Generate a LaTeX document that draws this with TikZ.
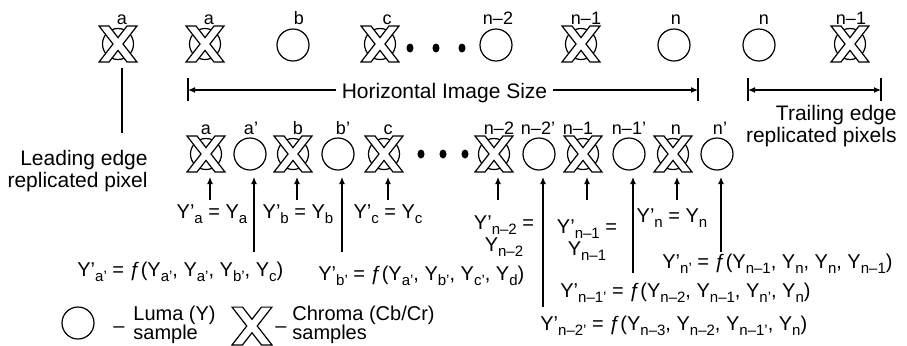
\documentclass[tikz,border=0pt]{standalone}
\usepackage{fontspec}
\setmainfont{Liberation Sans}
\usetikzlibrary{arrows.meta,calc}
\newcommand\sbx[1]{\raisebox{-2.5pt}{\fontsize{7.5}{8}\selectfont #1}}
\begin{document}
\begin{tikzpicture}[x=0.5pt,y=-0.5pt,
  lw/.style={line width=0.6pt},
  luma/.style={circle,draw,lw,minimum size=16pt,inner sep=0pt},
  chroma/.style={circle,draw,lw,minimum size=15.5pt,inner sep=0pt},
  lbl/.style={font=\fontsize{9}{10}\selectfont,anchor=base,inner sep=0pt},
  txt/.style={font=\fontsize{10.5}{12}\selectfont,inner sep=0pt},
  lgtxt/.style={font=\fontsize{10}{11}\selectfont,inner sep=0pt},
  ftxt/.style={font=\fontsize{10}{12}\selectfont,inner sep=0pt},
  arr/.style={lw,-{Latex[length=3.5pt,width=3pt]}},
  xmark/.pic={\draw[lw,fill=white,line join=miter] (-19,18)--(-9,18)--(0,6.4)--(9,18)--(19,18)--(5,0)--(19,-18)--(9,-18)--(0,-6.4)--(-9,-18)--(-19,-18)--(-5,0)--cycle;}
]
\useasboundingbox (0,0) rectangle (907,345);

% ---------- top row ----------
\node[chroma] (lead) at (118,44) {};
\node[chroma] (t1) at (205,44) {};
\node[luma]   (t2) at (293,45) {};
\node[chroma] (t3) at (380,44) {};
\node[luma]   (t4) at (496,45) {};
\node[chroma] (t5) at (581,44) {};
\node[luma]   (t6) at (674,45) {};
\node[luma]   (t7) at (759,45) {};
\node[chroma] (t8) at (850,44) {};
\foreach \n in {lead,t1,t3,t5,t8} \pic at (\n) {xmark};

\node[lbl] (lt0) at (122,24) {a};
\node[lbl] (lt1) at (209,24) {a};
\node[lbl] (lt2) at (299,24) {b};
\node[lbl] (lt3) at (387,24) {c};
\node[lbl] (lt4) at (498,24) {n–2};
\node[lbl] (lt5) at (586,24) {n–1};
\node[lbl] (lt6) at (676,24) {n};
\node[lbl] (lt7) at (764,24) {n};
\node[lbl] (lt8) at (851,24) {n–1};

\foreach \x in {410,436,462} \fill (\x,48) ellipse [x radius=1.75pt, y radius=2.25pt];

% ---------- horizontal image size ----------
\coordinate (hL) at (188,90);
\coordinate (hR) at (698,90);
\draw[lw] ($(hL)+(0,-12)$) -- ($(hL)+(0,11)$);
\draw[lw] ($(hR)+(0,-12)$) -- ($(hR)+(0,11)$);
\node[txt,anchor=base,inner xsep=2.5pt] (his) at (444.5,98) {Horizontal Image Size};
\draw[arr] (his.west |- hL) -- (hL);
\draw[arr] (his.east |- hR) -- (hR);

\coordinate (tL) at (748,90);
\coordinate (tR) at (881,90);
\draw[lw] ($(tL)+(0,-12)$) -- ($(tL)+(0,11)$);
\draw[lw] ($(tR)+(0,-12)$) -- ($(tR)+(0,11)$);
\draw[lw,{Latex[length=3.5pt,width=3pt]}-{Latex[length=3.5pt,width=3pt]}] (tL) -- (tR);

\node[txt,anchor=base east] (tr1) at (897,120) {Trailing edge};
\node[txt,anchor=base east] (tr2) at (897,142) {replicated pixels};

\node[txt,anchor=base east] (le1) at (148,165) {Leading edge};
\node[txt,anchor=base east] (le2) at (148,187) {replicated pixel};
\coordinate (leadend) at (122,133);
\draw[lw] ($(lead)+(4,24)$) -- (leadend);

% ---------- bottom row ----------
\node[chroma] (b1)  at (206,154) {};
\node[luma]   (b2)  at (250,154) {};
\node[chroma] (b3)  at (293,154) {};
\node[luma]   (b4)  at (338,154) {};
\node[chroma] (b5)  at (384,154) {};
\node[chroma] (b6)  at (494,154) {};
\node[luma]   (b7)  at (539,154) {};
\node[chroma] (b8)  at (583,154) {};
\node[luma]   (b9)  at (629,154) {};
\node[chroma] (b10) at (673,154) {};
\node[luma]   (b11) at (717,154) {};
\foreach \n in {b1,b3,b5,b6,b8,b10} \pic at (\n) {xmark};

\node[lbl] (lb1)  at (206,134) {a};
\node[lbl] (lb2)  at (251,134) {a’};
\node[lbl] (lb3)  at (298,134) {b};
\node[lbl] (lb4)  at (343,134) {b’};
\node[lbl] (lb5)  at (388,134) {c};
\node[lbl] (lb6)  at (499,134) {n–2};
\node[lbl] (lb7)  at (538,134) {n–2’};
\node[lbl] (lb8)  at (578,134) {n–1};
\node[lbl] (lb9)  at (629,134) {n–1’};
\node[lbl] (lb10) at (676,134) {n};
\node[lbl] (lb11) at (720,134) {n’};

\foreach \x in {421,443,465} \fill (\x,154) ellipse [x radius=1.75pt, y radius=2.25pt];

% arrows
\foreach \n in {b1,b3,b5,b6,b8,b10} {
  \coordinate (tail-\n) at ($(\n)+(4,46)$);
  \draw[arr] (tail-\n) -- ($(\n)+(4,23)$);
}
\foreach \n/\d in {b2/98,b4/98,b7/153,b9/119,b11/98} {
  \coordinate (tail-\n) at ($(\n)+(4,\d)$);
  \draw[arr] (tail-\n) -- ($(\n)+(4,23)$);
}

% equations
\node[ftxt,anchor=base] (ya) at (212,218) {Y’\sbx{a} = Y\sbx{a}};
\node[ftxt,anchor=base] (yb) at (298,218) {Y’\sbx{b} = Y\sbx{b}};
\node[ftxt,anchor=base] (yc) at (388,218) {Y’\sbx{c} = Y\sbx{c}};
\node[ftxt,anchor=base] (yn2a) at (504,229) {Y’\sbx{n–2} =};
\node[ftxt,anchor=base] (yn2b) at (504,251) {Y\sbx{n–2}};
\node[ftxt,anchor=base] (yn1a) at (587,233) {Y’\sbx{n–1} =};
\node[ftxt,anchor=base] (yn1b) at (587,255) {Y\sbx{n–1}};
\node[ftxt,anchor=base] (ynn) at (672,222) {Y’\sbx{n} = Y\sbx{n}};

\node[ftxt,anchor=base west] (fa) at (77,276) {Y’\sbx{a’} = ƒ(Y\sbx{a’}, Y\sbx{a’}, Y\sbx{b’}, Y\sbx{c})};
\node[ftxt,anchor=base west] (fb) at (318,280) {Y’\sbx{b’} = ƒ(Y\sbx{a’}, Y\sbx{b’}, Y\sbx{c’}, Y\sbx{d})};
\node[ftxt,anchor=base west] (fn) at (662,268) {Y’\sbx{n’} = ƒ(Y\sbx{n–1}, Y\sbx{n}, Y\sbx{n}, Y\sbx{n–1})};
\node[ftxt,anchor=base west] (fn1) at (560,297) {Y’\sbx{n–1’} = ƒ(Y\sbx{n–2}, Y\sbx{n–1}, Y\sbx{n’}, Y\sbx{n})};
\node[ftxt,anchor=base west] (fn2) at (540,330) {Y’\sbx{n–2’} = ƒ(Y\sbx{n–3}, Y\sbx{n–2}, Y\sbx{n–1’}, Y\sbx{n})};

% ---------- legend ----------
\node[luma] (lgl) at (78,323) {};
\node[lgtxt,anchor=base] (lgd1) at (119,332) {–};
\node[lgtxt,anchor=base west] (lg1a) at (133,320) {Luma (Y)};
\node[lgtxt,anchor=base west] (lg1b) at (133,339) {sample};
\node[inner sep=0pt,minimum width=20pt,minimum height=19pt] (lgx) at (252,326) {};
\pic[scale=1.05] at (lgx) {xmark};
\node[lgtxt,anchor=base] (lgd2) at (281,332) {–};
\node[lgtxt,anchor=base west] (lg2a) at (292,320) {Chroma (Cb/Cr)};
\node[lgtxt,anchor=base west] (lg2b) at (292,339) {samples};
\end{tikzpicture}
\end{document}
